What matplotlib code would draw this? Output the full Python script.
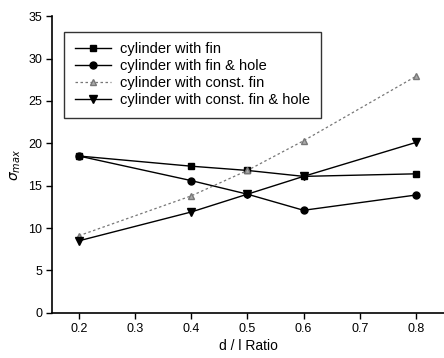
import numpy as np
import matplotlib.pyplot as plt

plt.rcParams['font.family'] = ['Liberation Sans', 'DejaVu Sans']

ratio = [0.2, 0.4, 0.5, 0.6, 0.8]
fin = [18.5, 17.3, 16.8, 16.1, 16.4]
fin_hole = [18.5, 15.6, 14.0, 12.1, 13.9]
const_fin = [9.1, 13.8, 16.8, 20.3, 27.9]
const_fin_hole = [8.5, 11.9, 14.0, 16.1, 20.1]

fig = plt.figure(figsize=(4.44, 3.58), dpi=100)
ax = fig.add_axes([0.117, 0.126, 0.883, 0.829])

ax.plot(ratio, fin, color='black', lw=1, marker='s', ms=5, label='cylinder with fin')
ax.plot(ratio, fin_hole, color='black', lw=1, marker='o', ms=5, label='cylinder with fin & hole')
ax.plot(ratio, const_fin, color='#777777', lw=0.9, ls=(0, (2, 2)), marker='^', ms=4,
        mfc='#aaaaaa', mec='#777777', label='cylinder with const. fin')
ax.plot(ratio, const_fin_hole, color='black', lw=1, marker='v', ms=5.5, label='cylinder with const. fin & hole')

ax.set_xlim(0.152, 0.85)
ax.set_ylim(0, 35)
ax.set_xticks([0.2, 0.3, 0.4, 0.5, 0.6, 0.7, 0.8])
ax.set_yticks(np.arange(0, 36, 5))
ax.spines['top'].set_visible(False)
ax.spines['right'].set_visible(False)
ax.spines['left'].set_linewidth(1.2)
ax.spines['bottom'].set_linewidth(1.2)
ax.tick_params(labelsize=9, length=4, width=1, pad=3)

ax.set_xlabel('d / l Ratio', fontsize=10, labelpad=3)
ax.set_ylabel(r'$\sigma_{max}$', fontsize=10, labelpad=4)

leg = ax.legend(loc='upper left', bbox_to_anchor=(0.03, 0.948), fontsize=10.5,
                frameon=True, fancybox=False, edgecolor='black', handlelength=2.5,
                borderpad=0.75, labelspacing=0.2, handletextpad=0.6, borderaxespad=0)
leg.get_frame().set_linewidth(1)

fig.savefig('out.png', dpi=100)
